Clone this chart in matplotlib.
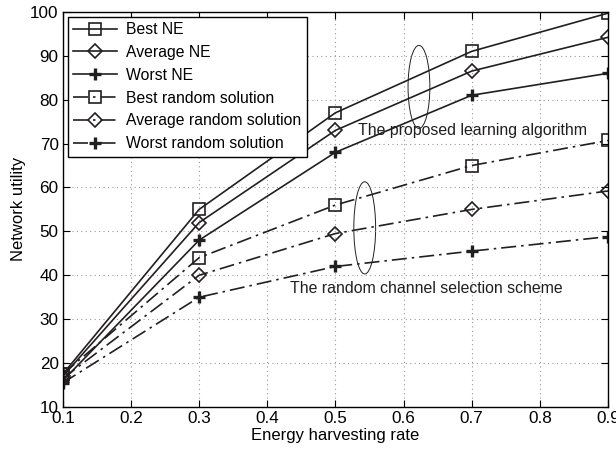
import matplotlib
matplotlib.use("Agg")
from matplotlib import pyplot as plt
from matplotlib.patches import Ellipse

plt.rcParams['font.family'] = ['Liberation Sans', 'DejaVu Sans']

rate = [0.1, 0.3, 0.5, 0.7, 0.9]
best_ne = [17.5, 55, 77, 91, 99.7]
avg_ne = [17, 52, 73, 86.5, 94.2]
worst_ne = [16, 48, 68, 81, 86]
best_rand = [17.5, 44, 56, 65, 70.7]
avg_rand = [16.5, 40, 49.5, 55, 59.2]
worst_rand = [15.5, 35, 42, 45.5, 48.8]

col = '#231f20'
dashdot = (0, (9, 3, 1.5, 3))

fig = plt.figure(figsize=(6.16, 4.55), dpi=100)
ax = fig.add_axes([0.102, 0.1055, 0.885, 0.8685])

ax.plot(rate, best_ne, '-', color=col, lw=1.2, marker='s', ms=8, mfc='none', mec=col, mew=1.2, label='Best NE')
ax.plot(rate, avg_ne, '-', color=col, lw=1.2, marker='D', ms=7, mfc='none', mec=col, mew=1.2, label='Average NE')
ax.plot(rate, worst_ne, '-', color=col, lw=1.2, marker='+', ms=9, mec=col, mew=2.4, label='Worst NE')
ax.plot(rate, best_rand, color=col, ls=dashdot, lw=1.2, marker='s', ms=8, mfc='none', mec=col, mew=1.2, label='Best random solution')
ax.plot(rate, avg_rand, color=col, ls=dashdot, lw=1.2, marker='D', ms=7, mfc='none', mec=col, mew=1.2, label='Average random solution')
ax.plot(rate, worst_rand, color=col, ls=dashdot, lw=1.2, marker='+', ms=9, mec=col, mew=2.4, label='Worst random solution')

ax.add_patch(Ellipse((0.6226, 82.9), 0.032, 18.9, fill=False, ec=col, lw=0.7))
ax.add_patch(Ellipse((0.543, 50.8), 0.032, 21, fill=False, ec=col, lw=0.7))
ax.text(0.533, 72.9, 'The proposed learning algorithm', fontsize=11.4, va='center', color=col)
ax.text(0.433, 37.1, 'The random channel selection scheme', fontsize=11.4, va='center', color=col)

ax.set_xlim(0.1, 0.9)
ax.set_ylim(10, 100)
ax.set_xticks([0.1, 0.2, 0.3, 0.4, 0.5, 0.6, 0.7, 0.8, 0.9])
ax.set_yticks(range(10, 101, 10))
ax.grid(True, ls=(0, (1, 3)), color='#999999', lw=0.8)
ax.tick_params(direction='in', top=True, right=True, labelsize=12.3, length=5, pad=3)
for s in ax.spines.values():
    s.set_linewidth(1.0)
ax.set_xlabel('Energy harvesting rate', fontsize=12, labelpad=1)
ax.set_ylabel('Network utility', fontsize=12, labelpad=3)

leg = ax.legend(loc='upper left', fontsize=11.3, handlelength=2.8, fancybox=False,
                framealpha=1, edgecolor='black', borderaxespad=0.3, labelspacing=0.5,
                borderpad=0.35, handletextpad=0.6)
leg.get_frame().set_linewidth(1.0)

fig.savefig('out.png', dpi=100)
